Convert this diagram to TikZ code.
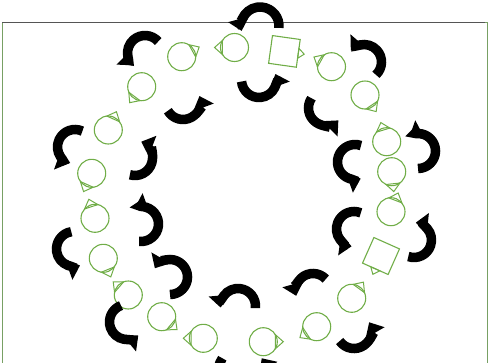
\documentclass[tikz,border=0pt]{standalone}
\usetikzlibrary{arrows.meta,calc}
\definecolor{agentgreen}{RGB}{112,173,71}
\definecolor{framegray}{RGB}{85,85,85}
\definecolor{framegreen}{RGB}{120,160,100}
\tikzset{
  agent/.style={circle, draw=agentgreen, line width=1.1pt, minimum size=28pt, inner sep=0pt},
  agentsq/.style={rectangle, draw=agentgreen, line width=1.1pt, minimum size=28pt, inner sep=0pt},
  tipline/.style={draw=agentgreen, line width=1pt, line join=miter},
  spinarrow/.style={line width=9.5pt, black, -{Triangle[width=21pt,length=12pt]}},
}
\newcommand\ptrc[2]{\draw[tipline] ($(#1)+(#2+30:14)$) -- ($(#1)+(#2:20)$) -- ($(#1)+(#2-30:14)$) -- cycle;}
\newcommand\ptrs[3]{\draw[tipline] ($(#1)+(#2:14)+(#2+90:#3+5)$) -- ($(#1)+(#2:20)+(#2+90:#3)$) -- ($(#1)+(#2:14)+(#2+90:#3-5)$) -- cycle;}
\newcommand\spin[5]{\draw[spinarrow] ([shift={(#4:#3)}]#1,#2) arc[start angle=#4, end angle=#5, radius=#3];}
\begin{document}
\begin{tikzpicture}[x=1pt,y=-1pt]
\useasboundingbox (0,0) rectangle (490,362);
% frame
\draw[framegreen, line width=1pt] (2,22.5) -- (2,363);
\draw[framegreen, line width=1pt] (487,22.5) -- (487,363);
\draw[framegray, line width=1.2pt] (2,22.5) -- (485,22.5);
\draw[framegreen, line width=1.2pt] (485,22.5) -- (487.5,22.5);
% agents
\node[agent] (c1) at (234.5,47.5) {};
\node[agentsq, rotate=-8] (s2) at (284.4,51.4) {};
\node[agent] (c3) at (331.5,66.7) {};
\node[agent] (c4) at (365,95) {};
\node[agent] (c5) at (386.7,141.7) {};
\node[agent] (c6) at (391.7,171.7) {};
\node[agent] (c7) at (391,211.7) {};
\node[agentsq, rotate=-24] (s8) at (381,256) {};
\node[agent] (c9) at (351.7,298.3) {};
\node[agent] (c10) at (316.7,326.7) {};
\node[agent] (c11) at (263.3,341.7) {};
\node[agent] (c12) at (203.3,338.3) {};
\node[agent] (c13) at (161.7,316.7) {};
\node[agent] (c14) at (128.3,295) {};
\node[agent] (c15) at (103.3,258.3) {};
\node[agent] (c16) at (95,218.3) {};
\node[agent] (c17) at (91.7,173.3) {};
\node[agent] (c18) at (108.3,130) {};
\node[agent] (c19) at (141.7,86.7) {};
\node[agent] (c20) at (181.7,56.7) {};
% pointers
\ptrc{c1}{180}
\ptrs{s2}{8}{0}
\ptrc{c3}{209}
\ptrc{c4}{56}
\ptrc{c5}{253}
\ptrc{c6}{84}
\ptrc{c7}{291}
\ptrs{s8}{114}{0}
\ptrc{c9}{306}
\ptrc{c10}{147}
\ptrc{c11}{0}
\ptrc{c12}{180}
\ptrc{c13}{40}
\ptrc{c14}{221}
\ptrc{c15}{68}
\ptrc{c16}{252}
\ptrc{c17}{114}
\ptrc{c18}{294}
\ptrc{c19}{127}
\ptrc{c20}{331}
% curved arrows
\spin{260}{26}{19}{6}{-195}
\spin{259}{80}{17.5}{175}{-20}
\spin{145}{53}{17.5}{-41}{-225}
\spin{183}{102}{17.5}{150}{-20}
\spin{75}{147}{17.5}{-65}{-250}
\spin{135}{158}{17.5}{107}{-69}
\spin{74}{249}{17.5}{-99}{-290}
\spin{141}{224}{17.5}{96}{-110}
\spin{127}{322}{17.5}{-110}{-310}
\spin{170}{277}{17.5}{90}{-150}
\spin{238}{306}{17.5}{7}{-185}
\spin{242}{372}{24}{215}{-35}
\spin{313}{291}{17.5}{-43}{-196}
\spin{354}{331}{17.5}{145}{-30}
\spin{354}{229}{17.5}{-67}{-262}
\spin{414}{240}{17.5}{109}{-84}
\spin{355}{162}{17.5}{-70}{-289}
\spin{418}{151}{17.5}{90}{-118}
\spin{364}{62}{17.5}{47}{-139}
\spin{326}{108}{17.5}{214}{45}
\end{tikzpicture}
\end{document}
